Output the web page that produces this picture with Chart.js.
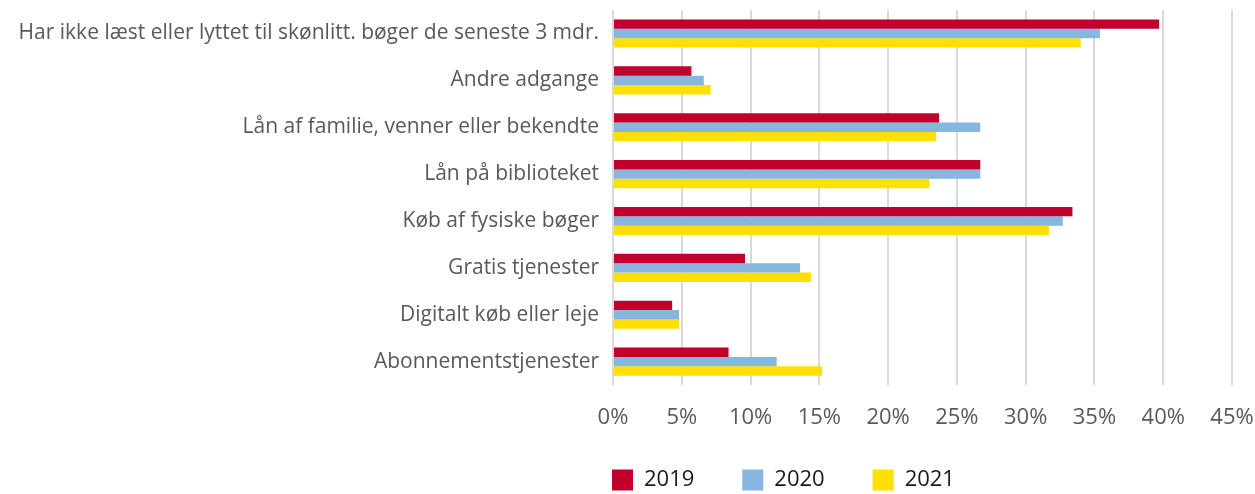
<!DOCTYPE html>
<html>
<head>
<meta charset="utf-8">
<script src="https://cdn.jsdelivr.net/npm/chart.js@4"></script>
<style>
  html, body { margin: 0; padding: 0; background: #fff; }
  #wrap { width: 1255px; height: 494px; }
</style>
</head>
<body>
<div id="wrap"><canvas id="chart"></canvas></div>
<script>
const categories = [
  "Har ikke læst eller lyttet til skønlitt. bøger de seneste 3 mdr.",
  "Andre adgange",
  "Lån af familie, venner eller bekendte",
  "Lån på biblioteket",
  "Køb af fysiske bøger",
  "Gratis tjenester",
  "Digitalt køb eller leje",
  "Abonnementstjenester"
];
const years = ["2019", "2020", "2021"];
const values2019 = [39.7, 5.7, 23.7, 26.7, 33.4, 9.6, 4.3, 8.4];
const values2020 = [35.4, 6.6, 26.7, 26.7, 32.7, 13.6, 4.8, 11.9];
const values2021 = [34.0, 7.1, 23.5, 23.0, 31.7, 14.4, 4.8, 15.2];
const colors = ["#C0002D", "#87B6DE", "#FFE000"];

const legendPad = 48;

// move the legend under the plot area, like the excel original
const legendPlacer = {
  id: "legendPlacer",
  afterLayout(chart) {
    const lg = chart.legend;
    if (!lg) return;
    lg.left = chart.chartArea.left - legendPad - 1;
    lg.top = 469 - legendPad;
  }
};

const ctx = document.getElementById("chart").getContext("2d");
new Chart(ctx, {
  type: "bar",
  data: {
    labels: categories,
    datasets: [
      { label: years[0], data: values2019, backgroundColor: colors[0] },
      { label: years[1], data: values2020, backgroundColor: colors[1] },
      { label: years[2], data: values2021, backgroundColor: colors[2] }
    ]
  },
  options: {
    indexAxis: "y",
    responsive: true,
    maintainAspectRatio: false,
    animation: false,
    categoryPercentage: 0.6,
    barPercentage: 1.0,
    layout: { padding: { top: 10, left: 0, right: 0, bottom: 0 } },
    plugins: {
      tooltip: { enabled: false },
      legend: {
        position: "bottom",
        align: "start",
        maxHeight: 50,
        labels: {
          boxWidth: 21,
          boxHeight: 21,
          padding: legendPad,
          color: "#1a1a1a",
          font: { family: "Open Sans", size: 22 }
        }
      }
    },
    scales: {
      x: {
        min: 0,
        max: 45,
        ticks: {
          stepSize: 5,
          padding: 20,
          color: "#595959",
          font: { family: "Open Sans", size: 22 },
          callback: (v) => v + "%"
        },
        grid: { color: "#D9D9D9", lineWidth: 2, drawTicks: false },
        border: { display: false },
        afterFit: (scale) => {
          scale.height = 59;
          scale.paddingLeft = 0;
          scale.paddingRight = 23;
        }
      },
      y: {
        ticks: {
          padding: 14,
          color: "#595959",
          font: { family: "Open Sans", size: 21 }
        },
        grid: { display: false, drawTicks: false },
        border: { display: false },
        afterFit: (scale) => {
          scale.width = 613;
          scale.paddingTop = 0;
          scale.paddingBottom = 0;
        }
      }
    }
  },
  plugins: [legendPlacer]
});
</script>
</body>
</html>
